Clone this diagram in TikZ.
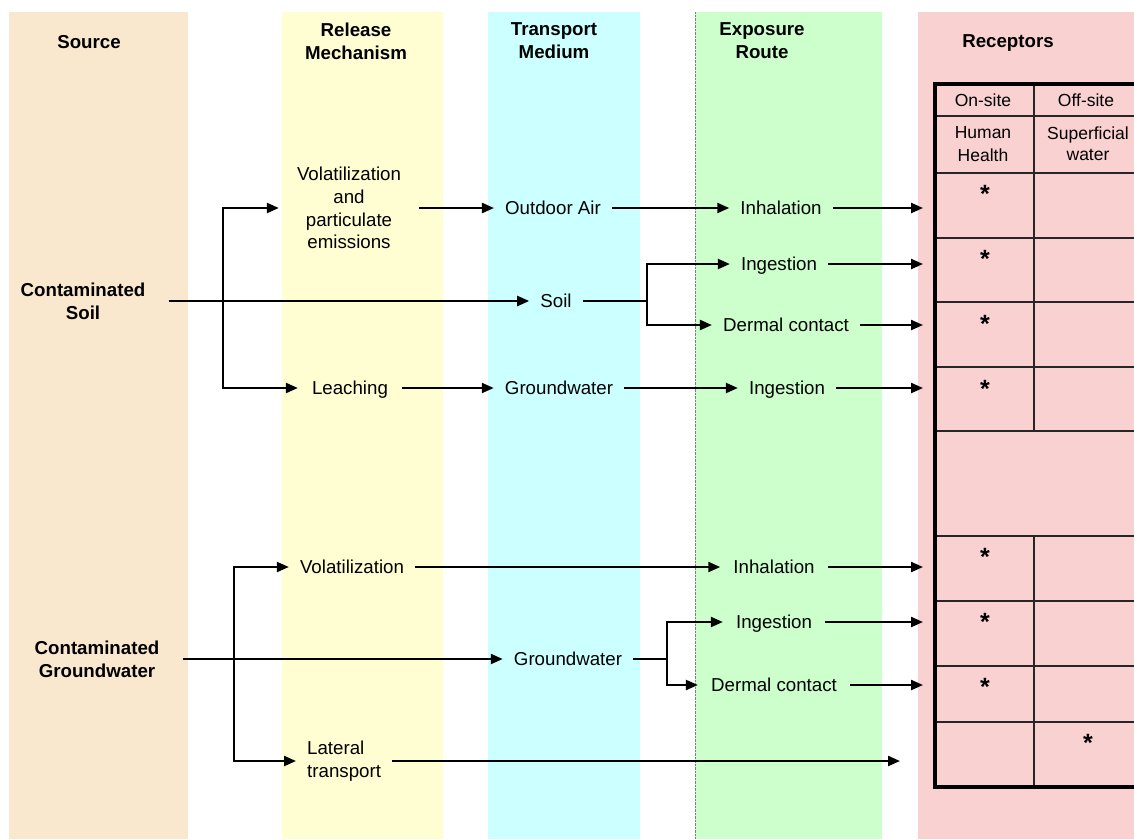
\documentclass[tikz,border=0pt]{standalone}
\usepackage{fontspec}
\setmainfont{Liberation Sans}
\usetikzlibrary{arrows.meta}

\definecolor{srccol}{HTML}{F9E8CD}
\definecolor{relcol}{HTML}{FFFDD2}
\definecolor{trncol}{HTML}{CCFFFF}
\definecolor{expcol}{HTML}{CCFFCC}
\definecolor{reccol}{HTML}{F9D1D1}

\tikzset{
  txt/.style={font=\fontsize{18.7}{22.7}\selectfont, inner ysep=0pt, inner xsep=11pt,
    text height=13.4pt, text depth=0pt},
  mtxt/.style={font=\fontsize{18.7}{22.7}\selectfont, align=center, inner ysep=0pt, inner xsep=11pt},
  head/.style={font=\fontsize{18.7}{22.7}\selectfont\bfseries, align=center, inner sep=0pt},
  srchead/.style={head, inner xsep=23pt},
  cell/.style={font=\fontsize{17.5}{23}\selectfont, align=center, inner sep=0pt},
  starcell/.style={font=\fontsize{25}{25}\selectfont\bfseries, inner sep=0pt, text height=12pt, text depth=0pt},
  flow/.style={line width=2.2pt, -{Triangle[length=12pt,width=10pt]}},
  link/.style={line width=2.2pt},
  tabthin/.style={line width=1.2pt, black!85},
  tabthick/.style={line width=3.8pt}
}

\begin{document}
\begin{tikzpicture}[x=1pt,y=-1pt]
        \useasboundingbox (0,0) rectangle (1134,839) ;
        % column bands
        \fill[srccol] (9,12) rectangle (188,839) ;
        \fill[relcol] (282,12) rectangle (443,839) ;
        \fill[trncol] (488,12) rectangle (640,839) ;
        \fill[expcol] (695,12) rectangle (882,839) ;
        \fill[reccol] (918,12) rectangle (1134,839) ;
        \draw[gray,densely dotted,thin] (695,12) -- (695,839) ;

        % headers
        \node[head] (hsrc) at (89,42) {Source} ;
        \node[head] (hrel) at (356,41) {Release\\Mechanism} ;
        \node[head] (htrn) at (554,41) {Transport\\Medium} ;
        \node[head] (hexp) at (762,41) {Exposure\\Route} ;
        \node[head] (hrec) at (1008,43) {Receptors} ;

        % contaminated soil
        \node[srchead] (CS) at (83,301) {Contaminated\\Soil} ;
        \node[mtxt,inner xsep=18pt] (volat1) at (349,208) {Volatilization\\and\\particulate\\emissions} ;
        \node[txt,inner xsep=14pt] (leach) at (350,388) {Leaching} ;
        \node[txt] (air) at (553,208) {Outdoor Air} ;
        \node[txt] (soil) at (556,301) {Soil} ;
        \node[txt] (gw1) at (559,388) {Groundwater} ;
        \node[txt] (inh1) at (781,208) {Inhalation} ;
        \node[txt] (ing1) at (779,264) {Ingestion} ;
        \node[txt] (derm1) at (786,325) {Dermal contact} ;
        \node[txt] (ing2) at (787,388) {Ingestion} ;

        \coordinate (b1) at (223,301) ;
        \coordinate (b2) at (647,301) ;
        \draw[flow] (CS) -- (soil) ;
        \draw[flow] (b1) |- (volat1.west) ;
        \draw[flow] (b1) |- (leach.west) ;
        \draw[flow] (volat1) -- (air) ;
        \draw[flow] (air) -- (inh1) ;
        \draw[flow] (leach) -- (gw1) ;
        \draw[flow] (gw1) -- (ing2) ;
        \draw[link] (soil) -- (b2) ;
        \draw[flow] (b2) |- (ing1.west) ;
        \draw[flow] (b2) |- (derm1.west) ;

        % contaminated groundwater
        \node[srchead] (CG) at (97,659) {Contaminated\\Groundwater} ;
        \node[txt] (volat2) at (352,567) {Volatilization} ;
        \node[mtxt,align=left,anchor=west] (lat) at (296,761) {Lateral\\transport} ;
        \node[txt] (gw2) at (568,659) {Groundwater} ;
        \node[txt,inner xsep=13pt] (inh2) at (774,567) {Inhalation} ;
        \node[txt,inner xsep=13pt] (ing3) at (774,622) {Ingestion} ;
        \node[txt,inner xsep=13pt] (derm2) at (774,685) {Dermal contact} ;

        \coordinate (b3) at (234,659) ;
        \coordinate (b4) at (667,659) ;
        \draw[flow] (CG) -- (gw2) ;
        \draw[flow] (b3) |- (volat2.west) ;
        \draw[flow] (b3) |- (lat.west) ;
        \draw[flow] (volat2) -- (inh2) ;
        \draw[link] (gw2) -- (b4) ;
        \draw[flow] (b4) |- (ing3.west) ;
        \draw[flow] (b4) |- (derm2.west) ;

        % arrows into the receptor table
        \coordinate (tabin) at (923,0) ;
        \coordinate (latend) at (900,0) ;
        \foreach \n in {inh1,ing1,derm1,ing2,inh2,ing3,derm2}
          \draw[flow] (\n) -- (\n -| tabin) ;
        \draw[flow] (lat) -- (lat -| latend) ;

        % receptor table
        \foreach \y in {116,173,238,302,367,431,536,601,666,722}
          \draw[tabthin] (935,\y) -- (1134,\y) ;
        \draw[tabthin] (1034,84) -- (1034,431) (1034,536) -- (1034,787) ;
        \draw[tabthick] (1134,84) -- (935,84) -- (935,787) -- (1134,787) ;
        \node[cell] (onsite) at (983,100) {On-site} ;
        \node[cell] (offsite) at (1086,100) {Off-site} ;
        \node[cell] (human) at (983,144) {Human\\Health} ;
        \node[cell,font=\fontsize{17.5}{21}\selectfont] (surf) at (1088,144) {Superficial\\water} ;
        \foreach \y [count=\i] in {192,257,322,387,555,620,685}
          \node[starcell] (star\i) at (985,\y+4) {*} ;
        \node[starcell] (star8) at (1088,745) {*} ;
\end{tikzpicture}
\end{document}
